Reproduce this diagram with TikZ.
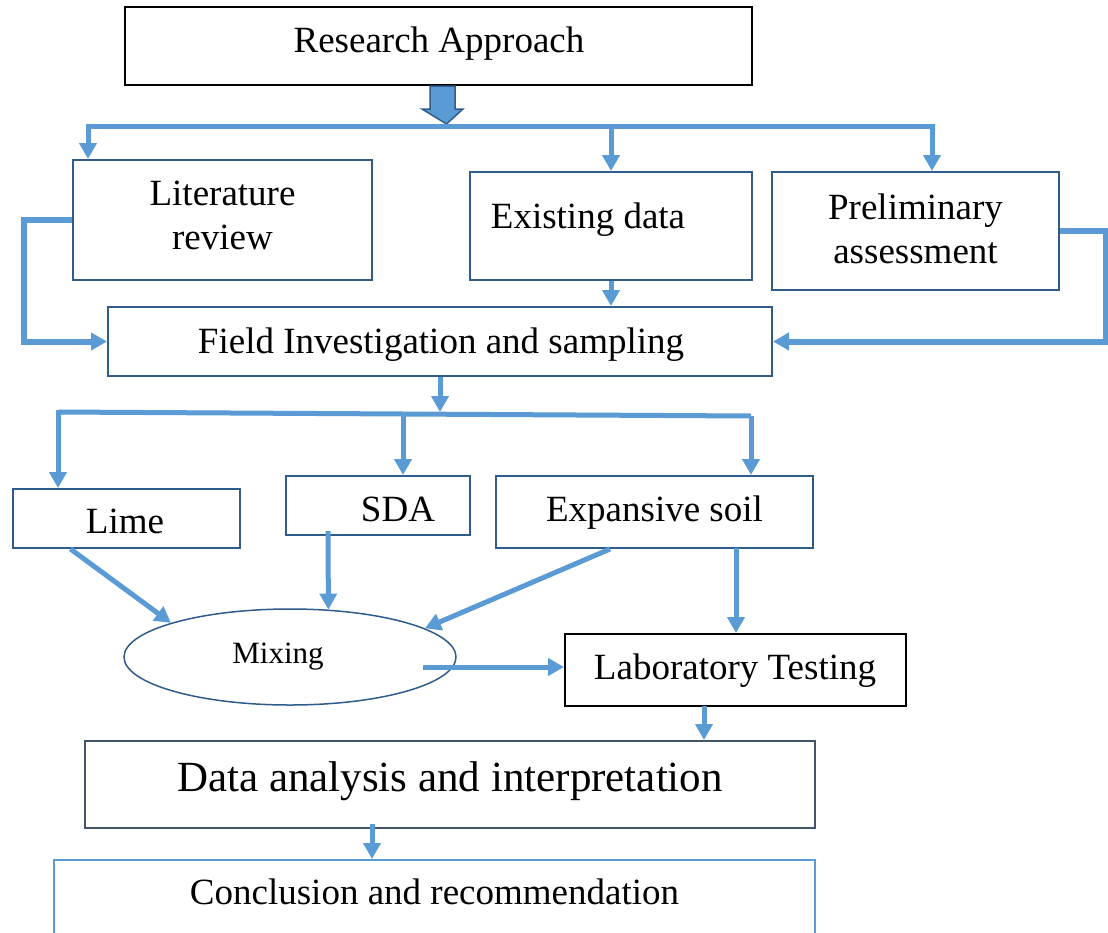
\documentclass[tikz,border=0pt]{standalone}
\usepackage{fontspec}
\setmainfont{Liberation Serif}
\usetikzlibrary{arrows.meta,calc,shapes.geometric}
\definecolor{conncol}{HTML}{5B9BD5}
\definecolor{edgecol}{HTML}{2F5C8A}
\definecolor{grayedge}{HTML}{44546A}
\begin{document}
\begin{tikzpicture}[x=1pt,y=-1pt,
  box/.style={draw=edgecol, line width=2pt, inner sep=0pt, fill=white},
  txt/.style={font=\fontsize{37}{44}\selectfont, anchor=base, align=center, inner sep=0pt},
  conn/.style={draw=conncol, line width=5pt},
  arr/.style={conn, -{Triangle[length=16pt,width=17pt]}}]
\useasboundingbox[fill=white] (0,0) rectangle (1108,932);

% boxes
\node[box, draw=black, minimum width=627pt, minimum height=78pt] (ra) at (438.5,46) {};
\node[box, minimum width=299pt, minimum height=120pt] (lit) at (222.5,220) {};
\node[box, minimum width=282pt, minimum height=108pt] (exist) at (611,226) {};
\node[box, minimum width=287pt, minimum height=118pt] (prelim) at (915.5,231) {};
\node[box, minimum width=664pt, minimum height=69pt] (field) at (440,341.5) {};
\node[box, minimum width=227pt, minimum height=59pt] (lime) at (126.5,518.5) {};
\node[box, minimum width=184pt, minimum height=59pt] (sda) at (378,505.5) {};
\node[box, minimum width=317pt, minimum height=72pt] (exp) at (654.5,512) {};
\node[box, ellipse, line width=1.5pt, minimum width=332pt, minimum height=96pt] (mix) at (290,657) {};
\node[box, draw=black, minimum width=341pt, minimum height=72pt] (lab) at (735.5,670) {};
\node[box, draw=grayedge, minimum width=730pt, minimum height=87pt] (data) at (450,784.5) {};
\node[box, draw=conncol, minimum width=761pt, minimum height=110pt] (concl) at (434.5,915) {};

% texts
\node[txt] at (439,52) {Research Approach};
\node[txt] at (222.5,249) {Literature\\review};
\node[txt] at (588,228) {Existing data};
\node[txt] at (915.5,263) {Preliminary\\assessment};
\node[txt] at (441,353) {Field Investigation and sampling};
\node[txt] at (125,533) {Lime};
\node[txt] at (398,521) {SDA};
\node[txt] at (654.5,521) {Expansive soil};
\node[txt, font=\fontsize{31}{36}\selectfont] at (278,663) {Mixing};
\node[txt] at (735,679) {Laboratory Testing};
\node[txt, font=\fontsize{43}{50}\selectfont] at (450,791) {Data analysis and interpretation};
\node[txt] at (434.5,904) {Conclusion and recommendation};

% block arrow
\draw[fill=conncol, draw=edgecol, line width=1.5pt, line join=miter]
  ($(ra.south)+(-8.5,0)$) -- ++(0,23) -- ++(-8,0) -- ($(ra.south)+(8,38)$)
  -- ++(16.5,-15) -- ++(-8,0) -- ($(ra.south)+(16.5,0)$) -- cycle;

% top distribution
\coordinate (busL) at (88,126);
\coordinate (busM) at (611,126);
\coordinate (busR) at (932,126);
\draw[conn] (busL) -- (busR);
\draw[arr] ($(busL)+(0,-2.5)$) -- (busL |- lit.north);
\draw[arr] (busM) -- (exist.north);
\draw[arr] ($(busR)+(0,-2.5)$) -- (busR |- prelim.north);

% side feeds into field investigation
\draw[arr, line width=6pt] (lit.west) -- ++(-48,0) |- (field.west);
\draw[arr, line width=6pt] (prelim.east) -- ++(46,0) |- (field.east);
\draw[arr] (exist.south) -- (exist.south |- field.north);

% second distribution
\coordinate (bL) at (58,412);
\coordinate (bM) at (403,413.5);
\coordinate (bR) at (751,416);
\draw[arr] (field.south) -- (440,412);
\draw[conn] (bL) -- (bR);
\draw[arr] ($(bL)+(0,-2.5)$) -- (bL |- lime.north);
\draw[arr] (bM) -- (bM |- sda.north);
\draw[arr] (bR) -- (bR |- exp.north);

% into mixing
\draw[arr] ($(lime.south)+(-56,0)$) -- (mix.164);
\draw[arr] ($(sda.south)+(-50,-5)$) -- (mix.51);
\draw[arr] ($(exp.south)+(-44.5,0)$) -- (mix.12);

% to laboratory
\coordinate (m1) at (423,667);
\draw[arr] (m1) -- (m1 -| lab.west);
\coordinate (e1) at (736,548);
\draw[arr] (e1) -- (e1 |- lab.north);

% down the chain
\coordinate (l1) at (704,706);
\draw[arr] (l1) -- (l1 |- data.north);
\coordinate (d1) at (372,824);
\draw[arr] (d1) -- (d1 |- concl.north);
\end{tikzpicture}
\end{document}
